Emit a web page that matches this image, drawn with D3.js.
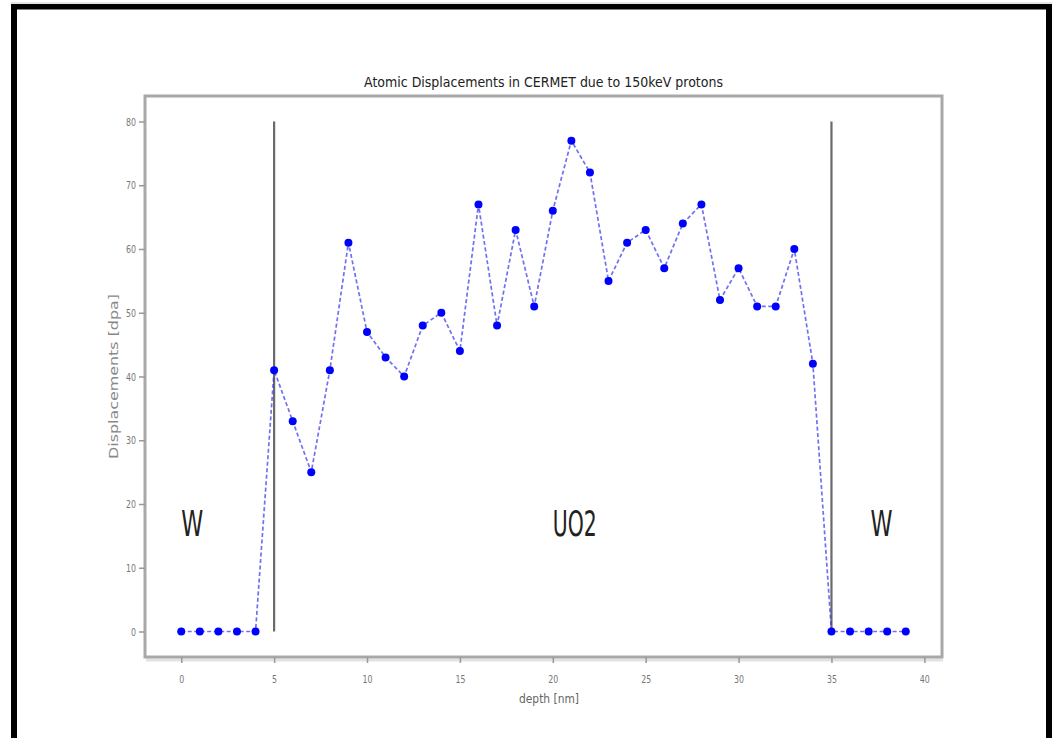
<!DOCTYPE html>
<html><head><meta charset="utf-8">
<script src="https://cdn.jsdelivr.net/npm/d3@7"></script>
<style>body{margin:0;background:#fff}svg{display:block}text{font-family:"DejaVu Sans",sans-serif}</style>
</head><body><svg id="c" width="1054" height="738"></svg>
<script>
const depth = d3.range(0, 40);
const displacements = [0,0,0,0,0,41,33,25,41,61,47,43,40,48,50,44,67,48,63,51,66,77,72,55,61,63,57,64,67,52,57,51,51,60,42,0,0,0,0,0];
const xTicks = [0,5,10,15,20,25,30,35,40];
const yTicks = [0,10,20,30,40,50,60,70,80];
const boundaries = [5, 35];
const boundaryRange = [0, 80];
const regionLabels = ["W","UO2","W"];
const regionX = [0, 20, 37.1];
const regionY = [15, 15, 15];
const title = "Atomic Displacements in CERMET due to 150keV protons";
const xLabel = "depth [nm]";
const yLabel = "Displacements [dpa]";

const svg = d3.select("#c");
// outer black frame
svg.append("rect").attr("x",11).attr("y",2.5).attr("width",1041).attr("height",1).attr("fill","#ccc");
svg.append("rect").attr("x",11).attr("y",4).attr("width",1041).attr("height",5.5).attr("fill","#000");
svg.append("rect").attr("x",11).attr("y",4).attr("width",6).attr("height",734).attr("fill","#000");
svg.append("rect").attr("x",1046).attr("y",4).attr("width",6).attr("height",734).attr("fill","#000");

const L=145, R=942, T=96, B=657;
const x = d3.scaleLinear().domain([-1.95, 40.95]).range([L, R]);
const y = d3.scaleLinear().domain([-4, 84]).range([B, T]);

// axes box
svg.append("rect").attr("x",L+1).attr("y",B+1.5).attr("width",R-L).attr("height",3).attr("fill","#e2e2e2");
svg.append("rect").attr("x",L).attr("y",T).attr("width",R-L).attr("height",B-T)
  .attr("fill","none").attr("stroke","#a8a8a8").attr("stroke-width",3);

// x axis
const xa = svg.append("g").attr("transform",`translate(0,${B})`)
  .call(d3.axisBottom(x).tickValues(xTicks).tickSize(6).tickPadding(12).tickFormat(d3.format("d")));
xa.select(".domain").remove();
xa.selectAll("line").attr("stroke","#999").attr("stroke-width",1.5);
xa.selectAll("text").attr("fill","#777").attr("font-size",11)
  .attr("textLength",d=>String(d).length*5).attr("lengthAdjust","spacingAndGlyphs");

// y axis
const ya = svg.append("g").attr("transform",`translate(${L},0)`)
  .call(d3.axisLeft(y).tickValues(yTicks).tickSize(6).tickPadding(3).tickFormat(d3.format("d")));
ya.select(".domain").remove();
ya.selectAll("line").attr("stroke","#999").attr("stroke-width",1.5);
ya.selectAll("text").attr("fill","#777").attr("font-size",11)
  .attr("textLength",d=>String(d).length*5).attr("lengthAdjust","spacingAndGlyphs");

// boundary lines
svg.append("g").selectAll("line").data(boundaries).join("line")
  .attr("x1",d=>x(d)).attr("x2",d=>x(d)).attr("y1",y(boundaryRange[0])).attr("y2",y(boundaryRange[1]))
  .attr("stroke","#6a6a6a").attr("stroke-width",2.2);

// data line
const pts = depth.map((d,i)=>[d, displacements[i]]);
svg.append("path").datum(pts)
  .attr("d", d3.line().x(d=>x(d[0])).y(d=>y(d[1])))
  .attr("fill","none").attr("stroke","#3333ee").attr("stroke-opacity",0.7).attr("stroke-width",1.7)
  .attr("stroke-dasharray","4,2.5");
svg.append("g").selectAll("circle").data(pts).join("circle")
  .attr("cx",d=>x(d[0])).attr("cy",d=>y(d[1])).attr("r",4).attr("fill","#0000ff");

// region labels
svg.append("g").selectAll("text").data(regionLabels).join("text")
  .attr("x",(d,i)=>x(regionX[i])).attr("y",(d,i)=>y(regionY[i]))
  .attr("font-size",35).attr("fill","#222")
  .attr("textLength",d=>d.length===1?22:44).attr("lengthAdjust","spacingAndGlyphs")
  .text(d=>d);

// title & labels
svg.append("text").attr("x",(L+R)/2).attr("y",87).attr("text-anchor","middle")
  .attr("font-size",13.5).attr("fill","#222").attr("textLength",359).attr("lengthAdjust","spacingAndGlyphs").text(title);
svg.append("text").attr("x",549).attr("y",703).attr("text-anchor","middle")
  .attr("font-size",12).attr("fill","#666").attr("textLength",60).attr("lengthAdjust","spacingAndGlyphs").text(xLabel);
svg.append("text").attr("transform",`translate(118,${(T+B)/2}) rotate(-90)`).attr("text-anchor","middle")
  .attr("font-size",11.5).attr("fill","#888").attr("textLength",165).attr("lengthAdjust","spacingAndGlyphs").text(yLabel);
</script></body></html>
